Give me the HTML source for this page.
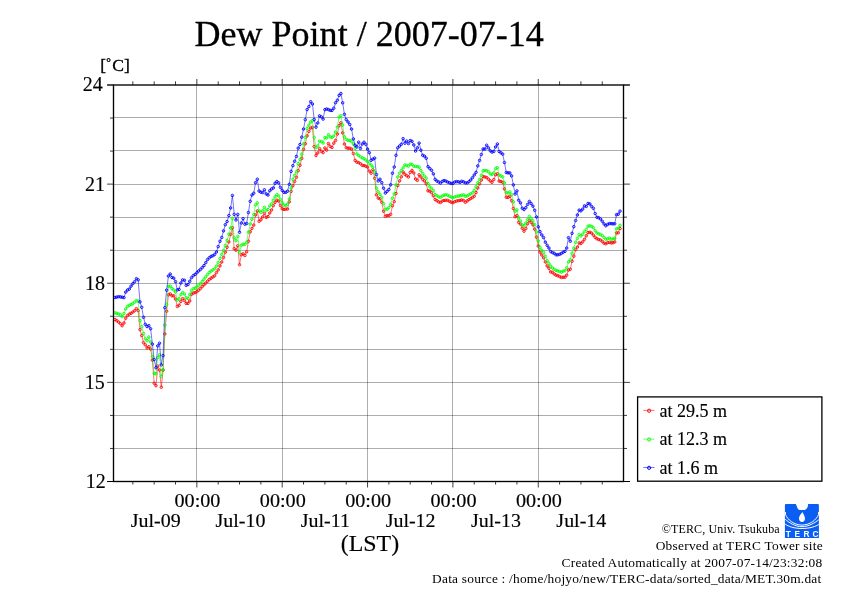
<!DOCTYPE html>
<html><head><meta charset="utf-8"><title>Dew Point / 2007-07-14</title>
<style>
html,body{margin:0;padding:0;background:#fff;}
body{width:842px;height:595px;overflow:hidden;}
svg{display:block;}
text{-webkit-font-smoothing:antialiased;}
.gs{will-change:transform;}
text{font-family:"Liberation Serif","Times New Roman",serif;fill:#000;}
</style></head><body>
<svg class="gs" width="842" height="595" viewBox="0 0 842 595">
<rect width="842" height="595" fill="#fff"/>
<path d="M113.5,117.5H623.5M113.5,150.5H623.5M113.5,184.5H623.5M113.5,217.5H623.5M113.5,250.5H623.5M113.5,283.5H623.5M113.5,316.5H623.5M113.5,349.5H623.5M113.5,382.5H623.5M113.5,415.5H623.5M113.5,448.5H623.5M196.5,85.0V481.5M282.5,85.0V481.5M367.5,85.0V481.5M452.5,85.0V481.5M538.5,85.0V481.5" stroke="#000" stroke-opacity="0.32" stroke-width="1" fill="none"/>
<path d="M107.10,85.00H113.5M623.5,85.00H629.90M110.00,118.04H113.5M623.5,118.04H627.00M110.00,151.08H113.5M623.5,151.08H627.00M107.10,184.12H113.5M623.5,184.12H629.90M110.00,217.17H113.5M623.5,217.17H627.00M110.00,250.21H113.5M623.5,250.21H627.00M107.10,283.25H113.5M623.5,283.25H629.90M110.00,316.29H113.5M623.5,316.29H627.00M110.00,349.33H113.5M623.5,349.33H627.00M107.10,382.38H113.5M623.5,382.38H629.90M110.00,415.42H113.5M623.5,415.42H627.00M110.00,448.46H113.5M623.5,448.46H627.00M107.10,481.50H113.5M623.5,481.50H629.90M602.26,85.0V81.30M602.26,481.5V484.60M580.93,85.0V81.30M580.93,481.5V484.60M559.59,85.0V81.30M559.59,481.5V484.60M538.25,85.0V79.00M538.25,481.5V487.50M516.91,85.0V81.30M516.91,481.5V484.60M495.58,85.0V81.30M495.58,481.5V484.60M474.24,85.0V81.30M474.24,481.5V484.60M452.90,85.0V79.00M452.90,481.5V487.50M431.56,85.0V81.30M431.56,481.5V484.60M410.23,85.0V81.30M410.23,481.5V484.60M388.89,85.0V81.30M388.89,481.5V484.60M367.55,85.0V79.00M367.55,481.5V487.50M346.21,85.0V81.30M346.21,481.5V484.60M324.88,85.0V81.30M324.88,481.5V484.60M303.54,85.0V81.30M303.54,481.5V484.60M282.20,85.0V79.00M282.20,481.5V487.50M260.86,85.0V81.30M260.86,481.5V484.60M239.53,85.0V81.30M239.53,481.5V484.60M218.19,85.0V81.30M218.19,481.5V484.60M196.85,85.0V79.00M196.85,481.5V487.50M175.51,85.0V81.30M175.51,481.5V484.60M154.18,85.0V81.30M154.18,481.5V484.60M132.84,85.0V81.30M132.84,481.5V484.60" stroke="#000" stroke-width="0.75" fill="none"/>
<path d="M623.5,85.0H629.9M623.5,481.5H629.9M107.1,85.0H113.5M107.1,481.5H113.5" stroke="#000" stroke-width="1.1" fill="none"/>
<polyline points="115.06,319.56 116.84,320.70 118.62,322.11 120.40,323.67 122.17,325.69 123.95,323.02 125.73,318.23 127.51,315.44 129.29,314.13 131.07,313.27 132.84,312.10 134.62,310.72 136.40,308.70 138.18,310.68 139.96,329.65 141.73,335.54 143.51,342.64 145.29,344.78 147.07,347.89 148.85,346.71 150.62,349.07 152.40,360.18 154.18,383.21 155.96,385.70 157.74,366.04 159.52,370.09 161.29,387.27 163.07,370.21 164.85,333.92 166.63,311.19 168.41,294.80 170.18,293.91 171.96,295.80 173.74,295.80 175.52,299.07 177.30,306.46 179.07,305.22 180.85,301.41 182.63,298.63 184.41,300.41 186.19,303.37 187.97,303.39 189.74,301.01 191.52,294.29 193.30,293.10 195.08,292.64 196.86,291.71 198.63,290.21 200.41,288.57 202.19,286.58 203.97,284.77 205.75,283.04 207.52,281.24 209.30,279.40 211.08,278.18 212.86,276.99 214.64,275.81 216.42,272.62 218.19,269.86 219.97,265.87 221.75,262.05 223.53,257.49 225.31,252.18 227.08,247.24 228.86,241.91 230.64,234.38 232.42,227.66 234.20,248.68 235.97,250.12 237.75,245.78 239.53,264.71 241.31,254.75 243.09,253.86 244.87,255.47 246.64,251.79 248.42,241.30 250.20,231.82 251.98,228.34 253.76,225.08 255.53,214.89 257.31,210.99 259.09,221.25 260.87,219.83 262.65,216.91 264.42,213.45 266.20,217.37 267.98,216.61 269.76,212.96 271.54,209.94 273.32,205.61 275.09,202.29 276.87,200.17 278.65,201.06 280.43,205.47 282.21,208.81 283.98,209.36 285.76,209.18 287.54,209.01 289.32,201.71 291.10,191.40 292.87,185.78 294.65,181.53 296.43,177.35 298.21,170.66 299.99,165.27 301.77,158.42 303.54,149.30 305.32,143.80 307.10,135.90 308.88,131.37 310.66,128.08 312.43,127.30 314.21,146.64 315.99,155.53 317.77,152.97 319.55,148.66 321.32,151.29 323.10,152.63 324.88,147.99 326.66,150.12 328.44,143.50 330.22,146.46 331.99,147.45 333.77,143.18 335.55,140.48 337.33,134.07 339.11,125.68 340.88,122.82 342.66,132.85 344.44,144.10 346.22,147.70 348.00,148.20 349.77,148.20 351.55,149.03 353.33,153.49 355.11,160.41 356.89,162.19 358.67,162.63 360.44,163.71 362.22,165.32 364.00,165.62 365.78,166.16 367.56,167.11 369.33,171.10 371.11,173.23 372.89,169.72 374.67,178.27 376.45,194.84 378.22,198.11 380.00,198.80 381.78,202.21 383.56,211.19 385.34,216.34 387.12,215.63 388.89,215.70 390.67,214.28 392.45,205.74 394.23,201.67 396.01,193.54 397.78,185.52 399.56,180.88 401.34,176.82 403.12,171.98 404.90,174.24 406.67,175.69 408.45,176.87 410.23,172.42 412.01,170.38 413.79,172.94 415.57,178.93 417.34,180.42 419.12,174.81 420.90,176.93 422.68,179.43 424.46,181.01 426.23,183.86 428.01,190.80 429.79,191.16 431.57,192.71 433.35,195.75 435.12,199.54 436.90,200.67 438.68,201.85 440.46,202.51 442.24,201.09 444.02,200.53 445.79,200.30 447.57,200.30 449.35,201.29 451.13,202.17 452.91,202.68 454.68,201.66 456.46,201.07 458.24,200.71 460.02,200.36 461.80,199.94 463.57,200.51 465.35,202.26 467.13,200.89 468.91,199.65 470.69,198.53 472.47,197.46 474.24,196.19 476.02,192.60 477.80,188.02 479.58,183.77 481.36,180.13 483.13,176.53 484.91,176.98 486.69,177.49 488.47,179.18 490.25,180.95 492.02,182.28 493.80,179.59 495.58,174.76 497.36,173.75 499.14,181.00 500.92,181.46 502.69,182.35 504.47,188.87 506.25,197.28 508.03,197.34 509.81,196.28 511.58,200.65 513.36,208.46 515.14,216.73 516.92,215.53 518.70,222.39 520.47,224.17 522.25,228.28 524.03,231.17 525.81,228.58 527.59,223.74 529.37,220.47 531.14,222.24 532.92,224.83 534.70,229.13 536.48,237.22 538.26,246.16 540.03,252.11 541.81,254.96 543.59,257.82 545.37,261.86 547.15,266.01 548.92,268.33 550.70,271.89 552.48,272.41 554.26,273.96 556.04,275.12 557.82,275.70 559.59,276.57 561.37,277.49 563.15,277.20 564.93,277.20 566.71,275.16 568.48,270.06 570.26,269.22 572.04,261.23 573.82,256.19 575.60,249.59 577.38,247.00 579.15,242.91 580.93,243.41 582.71,241.84 584.49,239.34 586.27,235.77 588.04,232.61 589.82,232.31 591.60,233.10 593.38,235.17 595.16,237.36 596.93,238.77 598.71,239.52 600.49,240.04 602.27,241.38 604.05,243.15 605.82,243.78 607.60,242.60 609.38,242.44 611.16,242.90 612.94,242.69 614.72,241.97 616.49,232.90 618.27,232.80 620.05,228.60" fill="none" stroke="#ff0000" stroke-width="0.55"/>
<g fill="none" stroke="#ff0000" stroke-width="0.9"><circle cx="115.06" cy="319.56" r="1.25"/><circle cx="116.84" cy="320.70" r="1.25"/><circle cx="118.62" cy="322.11" r="1.25"/><circle cx="120.40" cy="323.67" r="1.25"/><circle cx="122.17" cy="325.69" r="1.25"/><circle cx="123.95" cy="323.02" r="1.25"/><circle cx="125.73" cy="318.23" r="1.25"/><circle cx="127.51" cy="315.44" r="1.25"/><circle cx="129.29" cy="314.13" r="1.25"/><circle cx="131.07" cy="313.27" r="1.25"/><circle cx="132.84" cy="312.10" r="1.25"/><circle cx="134.62" cy="310.72" r="1.25"/><circle cx="136.40" cy="308.70" r="1.25"/><circle cx="138.18" cy="310.68" r="1.25"/><circle cx="139.96" cy="329.65" r="1.25"/><circle cx="141.73" cy="335.54" r="1.25"/><circle cx="143.51" cy="342.64" r="1.25"/><circle cx="145.29" cy="344.78" r="1.25"/><circle cx="147.07" cy="347.89" r="1.25"/><circle cx="148.85" cy="346.71" r="1.25"/><circle cx="150.62" cy="349.07" r="1.25"/><circle cx="152.40" cy="360.18" r="1.25"/><circle cx="154.18" cy="383.21" r="1.25"/><circle cx="155.96" cy="385.70" r="1.25"/><circle cx="157.74" cy="366.04" r="1.25"/><circle cx="159.52" cy="370.09" r="1.25"/><circle cx="161.29" cy="387.27" r="1.25"/><circle cx="163.07" cy="370.21" r="1.25"/><circle cx="164.85" cy="333.92" r="1.25"/><circle cx="166.63" cy="311.19" r="1.25"/><circle cx="168.41" cy="294.80" r="1.25"/><circle cx="170.18" cy="293.91" r="1.25"/><circle cx="171.96" cy="295.80" r="1.25"/><circle cx="173.74" cy="295.80" r="1.25"/><circle cx="175.52" cy="299.07" r="1.25"/><circle cx="177.30" cy="306.46" r="1.25"/><circle cx="179.07" cy="305.22" r="1.25"/><circle cx="180.85" cy="301.41" r="1.25"/><circle cx="182.63" cy="298.63" r="1.25"/><circle cx="184.41" cy="300.41" r="1.25"/><circle cx="186.19" cy="303.37" r="1.25"/><circle cx="187.97" cy="303.39" r="1.25"/><circle cx="189.74" cy="301.01" r="1.25"/><circle cx="191.52" cy="294.29" r="1.25"/><circle cx="193.30" cy="293.10" r="1.25"/><circle cx="195.08" cy="292.64" r="1.25"/><circle cx="196.86" cy="291.71" r="1.25"/><circle cx="198.63" cy="290.21" r="1.25"/><circle cx="200.41" cy="288.57" r="1.25"/><circle cx="202.19" cy="286.58" r="1.25"/><circle cx="203.97" cy="284.77" r="1.25"/><circle cx="205.75" cy="283.04" r="1.25"/><circle cx="207.52" cy="281.24" r="1.25"/><circle cx="209.30" cy="279.40" r="1.25"/><circle cx="211.08" cy="278.18" r="1.25"/><circle cx="212.86" cy="276.99" r="1.25"/><circle cx="214.64" cy="275.81" r="1.25"/><circle cx="216.42" cy="272.62" r="1.25"/><circle cx="218.19" cy="269.86" r="1.25"/><circle cx="219.97" cy="265.87" r="1.25"/><circle cx="221.75" cy="262.05" r="1.25"/><circle cx="223.53" cy="257.49" r="1.25"/><circle cx="225.31" cy="252.18" r="1.25"/><circle cx="227.08" cy="247.24" r="1.25"/><circle cx="228.86" cy="241.91" r="1.25"/><circle cx="230.64" cy="234.38" r="1.25"/><circle cx="232.42" cy="227.66" r="1.25"/><circle cx="234.20" cy="248.68" r="1.25"/><circle cx="235.97" cy="250.12" r="1.25"/><circle cx="237.75" cy="245.78" r="1.25"/><circle cx="239.53" cy="264.71" r="1.25"/><circle cx="241.31" cy="254.75" r="1.25"/><circle cx="243.09" cy="253.86" r="1.25"/><circle cx="244.87" cy="255.47" r="1.25"/><circle cx="246.64" cy="251.79" r="1.25"/><circle cx="248.42" cy="241.30" r="1.25"/><circle cx="250.20" cy="231.82" r="1.25"/><circle cx="251.98" cy="228.34" r="1.25"/><circle cx="253.76" cy="225.08" r="1.25"/><circle cx="255.53" cy="214.89" r="1.25"/><circle cx="257.31" cy="210.99" r="1.25"/><circle cx="259.09" cy="221.25" r="1.25"/><circle cx="260.87" cy="219.83" r="1.25"/><circle cx="262.65" cy="216.91" r="1.25"/><circle cx="264.42" cy="213.45" r="1.25"/><circle cx="266.20" cy="217.37" r="1.25"/><circle cx="267.98" cy="216.61" r="1.25"/><circle cx="269.76" cy="212.96" r="1.25"/><circle cx="271.54" cy="209.94" r="1.25"/><circle cx="273.32" cy="205.61" r="1.25"/><circle cx="275.09" cy="202.29" r="1.25"/><circle cx="276.87" cy="200.17" r="1.25"/><circle cx="278.65" cy="201.06" r="1.25"/><circle cx="280.43" cy="205.47" r="1.25"/><circle cx="282.21" cy="208.81" r="1.25"/><circle cx="283.98" cy="209.36" r="1.25"/><circle cx="285.76" cy="209.18" r="1.25"/><circle cx="287.54" cy="209.01" r="1.25"/><circle cx="289.32" cy="201.71" r="1.25"/><circle cx="291.10" cy="191.40" r="1.25"/><circle cx="292.87" cy="185.78" r="1.25"/><circle cx="294.65" cy="181.53" r="1.25"/><circle cx="296.43" cy="177.35" r="1.25"/><circle cx="298.21" cy="170.66" r="1.25"/><circle cx="299.99" cy="165.27" r="1.25"/><circle cx="301.77" cy="158.42" r="1.25"/><circle cx="303.54" cy="149.30" r="1.25"/><circle cx="305.32" cy="143.80" r="1.25"/><circle cx="307.10" cy="135.90" r="1.25"/><circle cx="308.88" cy="131.37" r="1.25"/><circle cx="310.66" cy="128.08" r="1.25"/><circle cx="312.43" cy="127.30" r="1.25"/><circle cx="314.21" cy="146.64" r="1.25"/><circle cx="315.99" cy="155.53" r="1.25"/><circle cx="317.77" cy="152.97" r="1.25"/><circle cx="319.55" cy="148.66" r="1.25"/><circle cx="321.32" cy="151.29" r="1.25"/><circle cx="323.10" cy="152.63" r="1.25"/><circle cx="324.88" cy="147.99" r="1.25"/><circle cx="326.66" cy="150.12" r="1.25"/><circle cx="328.44" cy="143.50" r="1.25"/><circle cx="330.22" cy="146.46" r="1.25"/><circle cx="331.99" cy="147.45" r="1.25"/><circle cx="333.77" cy="143.18" r="1.25"/><circle cx="335.55" cy="140.48" r="1.25"/><circle cx="337.33" cy="134.07" r="1.25"/><circle cx="339.11" cy="125.68" r="1.25"/><circle cx="340.88" cy="122.82" r="1.25"/><circle cx="342.66" cy="132.85" r="1.25"/><circle cx="344.44" cy="144.10" r="1.25"/><circle cx="346.22" cy="147.70" r="1.25"/><circle cx="348.00" cy="148.20" r="1.25"/><circle cx="349.77" cy="148.20" r="1.25"/><circle cx="351.55" cy="149.03" r="1.25"/><circle cx="353.33" cy="153.49" r="1.25"/><circle cx="355.11" cy="160.41" r="1.25"/><circle cx="356.89" cy="162.19" r="1.25"/><circle cx="358.67" cy="162.63" r="1.25"/><circle cx="360.44" cy="163.71" r="1.25"/><circle cx="362.22" cy="165.32" r="1.25"/><circle cx="364.00" cy="165.62" r="1.25"/><circle cx="365.78" cy="166.16" r="1.25"/><circle cx="367.56" cy="167.11" r="1.25"/><circle cx="369.33" cy="171.10" r="1.25"/><circle cx="371.11" cy="173.23" r="1.25"/><circle cx="372.89" cy="169.72" r="1.25"/><circle cx="374.67" cy="178.27" r="1.25"/><circle cx="376.45" cy="194.84" r="1.25"/><circle cx="378.22" cy="198.11" r="1.25"/><circle cx="380.00" cy="198.80" r="1.25"/><circle cx="381.78" cy="202.21" r="1.25"/><circle cx="383.56" cy="211.19" r="1.25"/><circle cx="385.34" cy="216.34" r="1.25"/><circle cx="387.12" cy="215.63" r="1.25"/><circle cx="388.89" cy="215.70" r="1.25"/><circle cx="390.67" cy="214.28" r="1.25"/><circle cx="392.45" cy="205.74" r="1.25"/><circle cx="394.23" cy="201.67" r="1.25"/><circle cx="396.01" cy="193.54" r="1.25"/><circle cx="397.78" cy="185.52" r="1.25"/><circle cx="399.56" cy="180.88" r="1.25"/><circle cx="401.34" cy="176.82" r="1.25"/><circle cx="403.12" cy="171.98" r="1.25"/><circle cx="404.90" cy="174.24" r="1.25"/><circle cx="406.67" cy="175.69" r="1.25"/><circle cx="408.45" cy="176.87" r="1.25"/><circle cx="410.23" cy="172.42" r="1.25"/><circle cx="412.01" cy="170.38" r="1.25"/><circle cx="413.79" cy="172.94" r="1.25"/><circle cx="415.57" cy="178.93" r="1.25"/><circle cx="417.34" cy="180.42" r="1.25"/><circle cx="419.12" cy="174.81" r="1.25"/><circle cx="420.90" cy="176.93" r="1.25"/><circle cx="422.68" cy="179.43" r="1.25"/><circle cx="424.46" cy="181.01" r="1.25"/><circle cx="426.23" cy="183.86" r="1.25"/><circle cx="428.01" cy="190.80" r="1.25"/><circle cx="429.79" cy="191.16" r="1.25"/><circle cx="431.57" cy="192.71" r="1.25"/><circle cx="433.35" cy="195.75" r="1.25"/><circle cx="435.12" cy="199.54" r="1.25"/><circle cx="436.90" cy="200.67" r="1.25"/><circle cx="438.68" cy="201.85" r="1.25"/><circle cx="440.46" cy="202.51" r="1.25"/><circle cx="442.24" cy="201.09" r="1.25"/><circle cx="444.02" cy="200.53" r="1.25"/><circle cx="445.79" cy="200.30" r="1.25"/><circle cx="447.57" cy="200.30" r="1.25"/><circle cx="449.35" cy="201.29" r="1.25"/><circle cx="451.13" cy="202.17" r="1.25"/><circle cx="452.91" cy="202.68" r="1.25"/><circle cx="454.68" cy="201.66" r="1.25"/><circle cx="456.46" cy="201.07" r="1.25"/><circle cx="458.24" cy="200.71" r="1.25"/><circle cx="460.02" cy="200.36" r="1.25"/><circle cx="461.80" cy="199.94" r="1.25"/><circle cx="463.57" cy="200.51" r="1.25"/><circle cx="465.35" cy="202.26" r="1.25"/><circle cx="467.13" cy="200.89" r="1.25"/><circle cx="468.91" cy="199.65" r="1.25"/><circle cx="470.69" cy="198.53" r="1.25"/><circle cx="472.47" cy="197.46" r="1.25"/><circle cx="474.24" cy="196.19" r="1.25"/><circle cx="476.02" cy="192.60" r="1.25"/><circle cx="477.80" cy="188.02" r="1.25"/><circle cx="479.58" cy="183.77" r="1.25"/><circle cx="481.36" cy="180.13" r="1.25"/><circle cx="483.13" cy="176.53" r="1.25"/><circle cx="484.91" cy="176.98" r="1.25"/><circle cx="486.69" cy="177.49" r="1.25"/><circle cx="488.47" cy="179.18" r="1.25"/><circle cx="490.25" cy="180.95" r="1.25"/><circle cx="492.02" cy="182.28" r="1.25"/><circle cx="493.80" cy="179.59" r="1.25"/><circle cx="495.58" cy="174.76" r="1.25"/><circle cx="497.36" cy="173.75" r="1.25"/><circle cx="499.14" cy="181.00" r="1.25"/><circle cx="500.92" cy="181.46" r="1.25"/><circle cx="502.69" cy="182.35" r="1.25"/><circle cx="504.47" cy="188.87" r="1.25"/><circle cx="506.25" cy="197.28" r="1.25"/><circle cx="508.03" cy="197.34" r="1.25"/><circle cx="509.81" cy="196.28" r="1.25"/><circle cx="511.58" cy="200.65" r="1.25"/><circle cx="513.36" cy="208.46" r="1.25"/><circle cx="515.14" cy="216.73" r="1.25"/><circle cx="516.92" cy="215.53" r="1.25"/><circle cx="518.70" cy="222.39" r="1.25"/><circle cx="520.47" cy="224.17" r="1.25"/><circle cx="522.25" cy="228.28" r="1.25"/><circle cx="524.03" cy="231.17" r="1.25"/><circle cx="525.81" cy="228.58" r="1.25"/><circle cx="527.59" cy="223.74" r="1.25"/><circle cx="529.37" cy="220.47" r="1.25"/><circle cx="531.14" cy="222.24" r="1.25"/><circle cx="532.92" cy="224.83" r="1.25"/><circle cx="534.70" cy="229.13" r="1.25"/><circle cx="536.48" cy="237.22" r="1.25"/><circle cx="538.26" cy="246.16" r="1.25"/><circle cx="540.03" cy="252.11" r="1.25"/><circle cx="541.81" cy="254.96" r="1.25"/><circle cx="543.59" cy="257.82" r="1.25"/><circle cx="545.37" cy="261.86" r="1.25"/><circle cx="547.15" cy="266.01" r="1.25"/><circle cx="548.92" cy="268.33" r="1.25"/><circle cx="550.70" cy="271.89" r="1.25"/><circle cx="552.48" cy="272.41" r="1.25"/><circle cx="554.26" cy="273.96" r="1.25"/><circle cx="556.04" cy="275.12" r="1.25"/><circle cx="557.82" cy="275.70" r="1.25"/><circle cx="559.59" cy="276.57" r="1.25"/><circle cx="561.37" cy="277.49" r="1.25"/><circle cx="563.15" cy="277.20" r="1.25"/><circle cx="564.93" cy="277.20" r="1.25"/><circle cx="566.71" cy="275.16" r="1.25"/><circle cx="568.48" cy="270.06" r="1.25"/><circle cx="570.26" cy="269.22" r="1.25"/><circle cx="572.04" cy="261.23" r="1.25"/><circle cx="573.82" cy="256.19" r="1.25"/><circle cx="575.60" cy="249.59" r="1.25"/><circle cx="577.38" cy="247.00" r="1.25"/><circle cx="579.15" cy="242.91" r="1.25"/><circle cx="580.93" cy="243.41" r="1.25"/><circle cx="582.71" cy="241.84" r="1.25"/><circle cx="584.49" cy="239.34" r="1.25"/><circle cx="586.27" cy="235.77" r="1.25"/><circle cx="588.04" cy="232.61" r="1.25"/><circle cx="589.82" cy="232.31" r="1.25"/><circle cx="591.60" cy="233.10" r="1.25"/><circle cx="593.38" cy="235.17" r="1.25"/><circle cx="595.16" cy="237.36" r="1.25"/><circle cx="596.93" cy="238.77" r="1.25"/><circle cx="598.71" cy="239.52" r="1.25"/><circle cx="600.49" cy="240.04" r="1.25"/><circle cx="602.27" cy="241.38" r="1.25"/><circle cx="604.05" cy="243.15" r="1.25"/><circle cx="605.82" cy="243.78" r="1.25"/><circle cx="607.60" cy="242.60" r="1.25"/><circle cx="609.38" cy="242.44" r="1.25"/><circle cx="611.16" cy="242.90" r="1.25"/><circle cx="612.94" cy="242.69" r="1.25"/><circle cx="614.72" cy="241.97" r="1.25"/><circle cx="616.49" cy="232.90" r="1.25"/><circle cx="618.27" cy="232.80" r="1.25"/><circle cx="620.05" cy="228.60" r="1.25"/></g>
<polyline points="115.06,312.86 116.84,313.37 118.62,313.94 120.40,314.62 122.17,316.67 123.95,313.59 125.73,309.01 127.51,306.45 129.29,305.22 131.07,304.64 132.84,303.61 134.62,302.18 136.40,300.65 138.18,301.09 139.96,320.58 141.73,326.70 143.51,333.40 145.29,338.89 147.07,340.67 148.85,337.03 150.62,341.92 152.40,356.59 154.18,373.52 155.96,373.78 157.74,357.49 159.52,354.73 161.29,376.45 163.07,369.78 164.85,325.14 166.63,304.53 168.41,286.39 170.18,286.13 171.96,288.59 173.74,289.85 175.52,292.02 177.30,300.25 179.07,298.79 180.85,294.62 182.63,292.51 184.41,294.02 186.19,297.77 187.97,298.36 189.74,294.44 191.52,290.48 193.30,288.70 195.08,288.30 196.86,287.21 198.63,285.37 200.41,283.59 202.19,281.53 203.97,279.19 205.75,276.84 207.52,274.47 209.30,272.55 211.08,271.07 212.86,270.02 214.64,268.83 216.42,266.08 218.19,262.70 219.97,258.39 221.75,254.26 223.53,250.45 225.31,245.52 227.08,240.25 228.86,234.29 230.64,228.03 232.42,218.37 234.20,237.86 235.97,240.82 237.75,236.34 239.53,252.46 241.31,245.28 243.09,244.16 244.87,244.50 246.64,242.37 248.42,232.09 250.20,223.96 251.98,219.22 253.76,214.52 255.53,204.84 257.31,202.78 259.09,210.97 260.87,212.40 262.65,210.88 264.42,207.34 266.20,210.55 267.98,209.51 269.76,205.99 271.54,203.86 273.32,200.30 275.09,196.87 276.87,194.68 278.65,195.95 280.43,199.39 282.21,202.71 283.98,205.08 285.76,205.43 287.54,204.06 289.32,198.93 291.10,187.99 292.87,179.31 294.65,175.31 296.43,171.74 298.21,163.58 299.99,159.34 301.77,154.13 303.54,143.79 305.32,137.28 307.10,128.30 308.88,125.19 310.66,122.08 312.43,120.60 314.21,137.47 315.99,147.61 317.77,145.82 319.55,141.14 321.32,141.43 323.10,143.00 324.88,137.55 326.66,138.09 328.44,134.63 330.22,136.89 331.99,137.34 333.77,136.06 335.55,132.08 337.33,127.01 339.11,117.05 340.88,115.71 342.66,125.04 344.44,136.84 346.22,139.34 348.00,140.34 349.77,140.54 351.55,141.47 353.33,143.99 355.11,148.35 356.89,154.03 358.67,155.52 360.44,156.73 362.22,157.86 364.00,158.75 365.78,159.87 367.56,161.35 369.33,163.34 371.11,165.11 372.89,167.09 374.67,171.92 376.45,188.27 378.22,191.87 380.00,194.36 381.78,197.28 383.56,203.73 385.34,209.37 387.12,209.02 388.89,207.66 390.67,204.53 392.45,198.23 394.23,194.06 396.01,185.07 397.78,176.96 399.56,173.25 401.34,170.47 403.12,167.89 404.90,165.03 406.67,165.33 408.45,166.18 410.23,164.17 412.01,164.51 413.79,166.32 415.57,166.42 417.34,166.60 419.12,167.15 420.90,170.64 422.68,173.62 424.46,176.19 426.23,178.13 428.01,183.65 429.79,186.75 431.57,188.59 433.35,190.58 435.12,194.71 436.90,195.78 438.68,196.85 440.46,197.41 442.24,195.99 444.02,195.16 445.79,194.82 447.57,195.17 449.35,196.19 451.13,197.07 452.91,197.62 454.68,196.94 456.46,196.47 458.24,196.11 460.02,195.76 461.80,195.20 463.57,194.92 465.35,196.34 467.13,195.93 468.91,194.89 470.69,193.83 472.47,192.76 474.24,190.51 476.02,186.75 477.80,182.74 479.58,179.44 481.36,175.25 483.13,170.79 484.91,170.44 486.69,170.72 488.47,171.65 490.25,173.91 492.02,174.36 493.80,172.80 495.58,168.62 497.36,167.66 499.14,175.11 500.92,175.96 502.69,176.85 504.47,182.93 506.25,192.63 508.03,192.99 509.81,191.89 511.58,194.57 513.36,201.74 515.14,211.27 516.92,209.85 518.70,217.78 520.47,220.93 522.25,224.93 524.03,225.82 525.81,223.08 527.59,219.53 529.37,216.50 531.14,218.61 532.92,220.83 534.70,224.59 536.48,231.89 538.26,240.88 540.03,247.36 541.81,250.32 543.59,252.29 545.37,256.42 547.15,260.79 548.92,263.23 550.70,266.02 552.48,268.06 554.26,269.37 556.04,270.36 557.82,270.91 559.59,271.53 561.37,272.16 563.15,271.05 564.93,270.80 566.71,267.79 568.48,261.98 570.26,259.79 572.04,253.27 573.82,248.22 575.60,242.37 577.38,238.40 579.15,234.61 580.93,235.95 582.71,234.28 584.49,231.52 586.27,229.47 588.04,226.20 589.82,225.85 591.60,226.52 593.38,227.59 595.16,230.71 596.93,233.05 598.71,233.78 600.49,234.51 602.27,235.55 604.05,237.46 605.82,239.17 607.60,238.90 609.38,237.98 611.16,239.31 612.94,238.89 614.72,238.45 616.49,228.78 618.27,228.41 620.05,225.30" fill="none" stroke="#00ff00" stroke-width="0.55"/>
<g fill="none" stroke="#00ff00" stroke-width="0.9"><circle cx="115.06" cy="312.86" r="1.25"/><circle cx="116.84" cy="313.37" r="1.25"/><circle cx="118.62" cy="313.94" r="1.25"/><circle cx="120.40" cy="314.62" r="1.25"/><circle cx="122.17" cy="316.67" r="1.25"/><circle cx="123.95" cy="313.59" r="1.25"/><circle cx="125.73" cy="309.01" r="1.25"/><circle cx="127.51" cy="306.45" r="1.25"/><circle cx="129.29" cy="305.22" r="1.25"/><circle cx="131.07" cy="304.64" r="1.25"/><circle cx="132.84" cy="303.61" r="1.25"/><circle cx="134.62" cy="302.18" r="1.25"/><circle cx="136.40" cy="300.65" r="1.25"/><circle cx="138.18" cy="301.09" r="1.25"/><circle cx="139.96" cy="320.58" r="1.25"/><circle cx="141.73" cy="326.70" r="1.25"/><circle cx="143.51" cy="333.40" r="1.25"/><circle cx="145.29" cy="338.89" r="1.25"/><circle cx="147.07" cy="340.67" r="1.25"/><circle cx="148.85" cy="337.03" r="1.25"/><circle cx="150.62" cy="341.92" r="1.25"/><circle cx="152.40" cy="356.59" r="1.25"/><circle cx="154.18" cy="373.52" r="1.25"/><circle cx="155.96" cy="373.78" r="1.25"/><circle cx="157.74" cy="357.49" r="1.25"/><circle cx="159.52" cy="354.73" r="1.25"/><circle cx="161.29" cy="376.45" r="1.25"/><circle cx="163.07" cy="369.78" r="1.25"/><circle cx="164.85" cy="325.14" r="1.25"/><circle cx="166.63" cy="304.53" r="1.25"/><circle cx="168.41" cy="286.39" r="1.25"/><circle cx="170.18" cy="286.13" r="1.25"/><circle cx="171.96" cy="288.59" r="1.25"/><circle cx="173.74" cy="289.85" r="1.25"/><circle cx="175.52" cy="292.02" r="1.25"/><circle cx="177.30" cy="300.25" r="1.25"/><circle cx="179.07" cy="298.79" r="1.25"/><circle cx="180.85" cy="294.62" r="1.25"/><circle cx="182.63" cy="292.51" r="1.25"/><circle cx="184.41" cy="294.02" r="1.25"/><circle cx="186.19" cy="297.77" r="1.25"/><circle cx="187.97" cy="298.36" r="1.25"/><circle cx="189.74" cy="294.44" r="1.25"/><circle cx="191.52" cy="290.48" r="1.25"/><circle cx="193.30" cy="288.70" r="1.25"/><circle cx="195.08" cy="288.30" r="1.25"/><circle cx="196.86" cy="287.21" r="1.25"/><circle cx="198.63" cy="285.37" r="1.25"/><circle cx="200.41" cy="283.59" r="1.25"/><circle cx="202.19" cy="281.53" r="1.25"/><circle cx="203.97" cy="279.19" r="1.25"/><circle cx="205.75" cy="276.84" r="1.25"/><circle cx="207.52" cy="274.47" r="1.25"/><circle cx="209.30" cy="272.55" r="1.25"/><circle cx="211.08" cy="271.07" r="1.25"/><circle cx="212.86" cy="270.02" r="1.25"/><circle cx="214.64" cy="268.83" r="1.25"/><circle cx="216.42" cy="266.08" r="1.25"/><circle cx="218.19" cy="262.70" r="1.25"/><circle cx="219.97" cy="258.39" r="1.25"/><circle cx="221.75" cy="254.26" r="1.25"/><circle cx="223.53" cy="250.45" r="1.25"/><circle cx="225.31" cy="245.52" r="1.25"/><circle cx="227.08" cy="240.25" r="1.25"/><circle cx="228.86" cy="234.29" r="1.25"/><circle cx="230.64" cy="228.03" r="1.25"/><circle cx="232.42" cy="218.37" r="1.25"/><circle cx="234.20" cy="237.86" r="1.25"/><circle cx="235.97" cy="240.82" r="1.25"/><circle cx="237.75" cy="236.34" r="1.25"/><circle cx="239.53" cy="252.46" r="1.25"/><circle cx="241.31" cy="245.28" r="1.25"/><circle cx="243.09" cy="244.16" r="1.25"/><circle cx="244.87" cy="244.50" r="1.25"/><circle cx="246.64" cy="242.37" r="1.25"/><circle cx="248.42" cy="232.09" r="1.25"/><circle cx="250.20" cy="223.96" r="1.25"/><circle cx="251.98" cy="219.22" r="1.25"/><circle cx="253.76" cy="214.52" r="1.25"/><circle cx="255.53" cy="204.84" r="1.25"/><circle cx="257.31" cy="202.78" r="1.25"/><circle cx="259.09" cy="210.97" r="1.25"/><circle cx="260.87" cy="212.40" r="1.25"/><circle cx="262.65" cy="210.88" r="1.25"/><circle cx="264.42" cy="207.34" r="1.25"/><circle cx="266.20" cy="210.55" r="1.25"/><circle cx="267.98" cy="209.51" r="1.25"/><circle cx="269.76" cy="205.99" r="1.25"/><circle cx="271.54" cy="203.86" r="1.25"/><circle cx="273.32" cy="200.30" r="1.25"/><circle cx="275.09" cy="196.87" r="1.25"/><circle cx="276.87" cy="194.68" r="1.25"/><circle cx="278.65" cy="195.95" r="1.25"/><circle cx="280.43" cy="199.39" r="1.25"/><circle cx="282.21" cy="202.71" r="1.25"/><circle cx="283.98" cy="205.08" r="1.25"/><circle cx="285.76" cy="205.43" r="1.25"/><circle cx="287.54" cy="204.06" r="1.25"/><circle cx="289.32" cy="198.93" r="1.25"/><circle cx="291.10" cy="187.99" r="1.25"/><circle cx="292.87" cy="179.31" r="1.25"/><circle cx="294.65" cy="175.31" r="1.25"/><circle cx="296.43" cy="171.74" r="1.25"/><circle cx="298.21" cy="163.58" r="1.25"/><circle cx="299.99" cy="159.34" r="1.25"/><circle cx="301.77" cy="154.13" r="1.25"/><circle cx="303.54" cy="143.79" r="1.25"/><circle cx="305.32" cy="137.28" r="1.25"/><circle cx="307.10" cy="128.30" r="1.25"/><circle cx="308.88" cy="125.19" r="1.25"/><circle cx="310.66" cy="122.08" r="1.25"/><circle cx="312.43" cy="120.60" r="1.25"/><circle cx="314.21" cy="137.47" r="1.25"/><circle cx="315.99" cy="147.61" r="1.25"/><circle cx="317.77" cy="145.82" r="1.25"/><circle cx="319.55" cy="141.14" r="1.25"/><circle cx="321.32" cy="141.43" r="1.25"/><circle cx="323.10" cy="143.00" r="1.25"/><circle cx="324.88" cy="137.55" r="1.25"/><circle cx="326.66" cy="138.09" r="1.25"/><circle cx="328.44" cy="134.63" r="1.25"/><circle cx="330.22" cy="136.89" r="1.25"/><circle cx="331.99" cy="137.34" r="1.25"/><circle cx="333.77" cy="136.06" r="1.25"/><circle cx="335.55" cy="132.08" r="1.25"/><circle cx="337.33" cy="127.01" r="1.25"/><circle cx="339.11" cy="117.05" r="1.25"/><circle cx="340.88" cy="115.71" r="1.25"/><circle cx="342.66" cy="125.04" r="1.25"/><circle cx="344.44" cy="136.84" r="1.25"/><circle cx="346.22" cy="139.34" r="1.25"/><circle cx="348.00" cy="140.34" r="1.25"/><circle cx="349.77" cy="140.54" r="1.25"/><circle cx="351.55" cy="141.47" r="1.25"/><circle cx="353.33" cy="143.99" r="1.25"/><circle cx="355.11" cy="148.35" r="1.25"/><circle cx="356.89" cy="154.03" r="1.25"/><circle cx="358.67" cy="155.52" r="1.25"/><circle cx="360.44" cy="156.73" r="1.25"/><circle cx="362.22" cy="157.86" r="1.25"/><circle cx="364.00" cy="158.75" r="1.25"/><circle cx="365.78" cy="159.87" r="1.25"/><circle cx="367.56" cy="161.35" r="1.25"/><circle cx="369.33" cy="163.34" r="1.25"/><circle cx="371.11" cy="165.11" r="1.25"/><circle cx="372.89" cy="167.09" r="1.25"/><circle cx="374.67" cy="171.92" r="1.25"/><circle cx="376.45" cy="188.27" r="1.25"/><circle cx="378.22" cy="191.87" r="1.25"/><circle cx="380.00" cy="194.36" r="1.25"/><circle cx="381.78" cy="197.28" r="1.25"/><circle cx="383.56" cy="203.73" r="1.25"/><circle cx="385.34" cy="209.37" r="1.25"/><circle cx="387.12" cy="209.02" r="1.25"/><circle cx="388.89" cy="207.66" r="1.25"/><circle cx="390.67" cy="204.53" r="1.25"/><circle cx="392.45" cy="198.23" r="1.25"/><circle cx="394.23" cy="194.06" r="1.25"/><circle cx="396.01" cy="185.07" r="1.25"/><circle cx="397.78" cy="176.96" r="1.25"/><circle cx="399.56" cy="173.25" r="1.25"/><circle cx="401.34" cy="170.47" r="1.25"/><circle cx="403.12" cy="167.89" r="1.25"/><circle cx="404.90" cy="165.03" r="1.25"/><circle cx="406.67" cy="165.33" r="1.25"/><circle cx="408.45" cy="166.18" r="1.25"/><circle cx="410.23" cy="164.17" r="1.25"/><circle cx="412.01" cy="164.51" r="1.25"/><circle cx="413.79" cy="166.32" r="1.25"/><circle cx="415.57" cy="166.42" r="1.25"/><circle cx="417.34" cy="166.60" r="1.25"/><circle cx="419.12" cy="167.15" r="1.25"/><circle cx="420.90" cy="170.64" r="1.25"/><circle cx="422.68" cy="173.62" r="1.25"/><circle cx="424.46" cy="176.19" r="1.25"/><circle cx="426.23" cy="178.13" r="1.25"/><circle cx="428.01" cy="183.65" r="1.25"/><circle cx="429.79" cy="186.75" r="1.25"/><circle cx="431.57" cy="188.59" r="1.25"/><circle cx="433.35" cy="190.58" r="1.25"/><circle cx="435.12" cy="194.71" r="1.25"/><circle cx="436.90" cy="195.78" r="1.25"/><circle cx="438.68" cy="196.85" r="1.25"/><circle cx="440.46" cy="197.41" r="1.25"/><circle cx="442.24" cy="195.99" r="1.25"/><circle cx="444.02" cy="195.16" r="1.25"/><circle cx="445.79" cy="194.82" r="1.25"/><circle cx="447.57" cy="195.17" r="1.25"/><circle cx="449.35" cy="196.19" r="1.25"/><circle cx="451.13" cy="197.07" r="1.25"/><circle cx="452.91" cy="197.62" r="1.25"/><circle cx="454.68" cy="196.94" r="1.25"/><circle cx="456.46" cy="196.47" r="1.25"/><circle cx="458.24" cy="196.11" r="1.25"/><circle cx="460.02" cy="195.76" r="1.25"/><circle cx="461.80" cy="195.20" r="1.25"/><circle cx="463.57" cy="194.92" r="1.25"/><circle cx="465.35" cy="196.34" r="1.25"/><circle cx="467.13" cy="195.93" r="1.25"/><circle cx="468.91" cy="194.89" r="1.25"/><circle cx="470.69" cy="193.83" r="1.25"/><circle cx="472.47" cy="192.76" r="1.25"/><circle cx="474.24" cy="190.51" r="1.25"/><circle cx="476.02" cy="186.75" r="1.25"/><circle cx="477.80" cy="182.74" r="1.25"/><circle cx="479.58" cy="179.44" r="1.25"/><circle cx="481.36" cy="175.25" r="1.25"/><circle cx="483.13" cy="170.79" r="1.25"/><circle cx="484.91" cy="170.44" r="1.25"/><circle cx="486.69" cy="170.72" r="1.25"/><circle cx="488.47" cy="171.65" r="1.25"/><circle cx="490.25" cy="173.91" r="1.25"/><circle cx="492.02" cy="174.36" r="1.25"/><circle cx="493.80" cy="172.80" r="1.25"/><circle cx="495.58" cy="168.62" r="1.25"/><circle cx="497.36" cy="167.66" r="1.25"/><circle cx="499.14" cy="175.11" r="1.25"/><circle cx="500.92" cy="175.96" r="1.25"/><circle cx="502.69" cy="176.85" r="1.25"/><circle cx="504.47" cy="182.93" r="1.25"/><circle cx="506.25" cy="192.63" r="1.25"/><circle cx="508.03" cy="192.99" r="1.25"/><circle cx="509.81" cy="191.89" r="1.25"/><circle cx="511.58" cy="194.57" r="1.25"/><circle cx="513.36" cy="201.74" r="1.25"/><circle cx="515.14" cy="211.27" r="1.25"/><circle cx="516.92" cy="209.85" r="1.25"/><circle cx="518.70" cy="217.78" r="1.25"/><circle cx="520.47" cy="220.93" r="1.25"/><circle cx="522.25" cy="224.93" r="1.25"/><circle cx="524.03" cy="225.82" r="1.25"/><circle cx="525.81" cy="223.08" r="1.25"/><circle cx="527.59" cy="219.53" r="1.25"/><circle cx="529.37" cy="216.50" r="1.25"/><circle cx="531.14" cy="218.61" r="1.25"/><circle cx="532.92" cy="220.83" r="1.25"/><circle cx="534.70" cy="224.59" r="1.25"/><circle cx="536.48" cy="231.89" r="1.25"/><circle cx="538.26" cy="240.88" r="1.25"/><circle cx="540.03" cy="247.36" r="1.25"/><circle cx="541.81" cy="250.32" r="1.25"/><circle cx="543.59" cy="252.29" r="1.25"/><circle cx="545.37" cy="256.42" r="1.25"/><circle cx="547.15" cy="260.79" r="1.25"/><circle cx="548.92" cy="263.23" r="1.25"/><circle cx="550.70" cy="266.02" r="1.25"/><circle cx="552.48" cy="268.06" r="1.25"/><circle cx="554.26" cy="269.37" r="1.25"/><circle cx="556.04" cy="270.36" r="1.25"/><circle cx="557.82" cy="270.91" r="1.25"/><circle cx="559.59" cy="271.53" r="1.25"/><circle cx="561.37" cy="272.16" r="1.25"/><circle cx="563.15" cy="271.05" r="1.25"/><circle cx="564.93" cy="270.80" r="1.25"/><circle cx="566.71" cy="267.79" r="1.25"/><circle cx="568.48" cy="261.98" r="1.25"/><circle cx="570.26" cy="259.79" r="1.25"/><circle cx="572.04" cy="253.27" r="1.25"/><circle cx="573.82" cy="248.22" r="1.25"/><circle cx="575.60" cy="242.37" r="1.25"/><circle cx="577.38" cy="238.40" r="1.25"/><circle cx="579.15" cy="234.61" r="1.25"/><circle cx="580.93" cy="235.95" r="1.25"/><circle cx="582.71" cy="234.28" r="1.25"/><circle cx="584.49" cy="231.52" r="1.25"/><circle cx="586.27" cy="229.47" r="1.25"/><circle cx="588.04" cy="226.20" r="1.25"/><circle cx="589.82" cy="225.85" r="1.25"/><circle cx="591.60" cy="226.52" r="1.25"/><circle cx="593.38" cy="227.59" r="1.25"/><circle cx="595.16" cy="230.71" r="1.25"/><circle cx="596.93" cy="233.05" r="1.25"/><circle cx="598.71" cy="233.78" r="1.25"/><circle cx="600.49" cy="234.51" r="1.25"/><circle cx="602.27" cy="235.55" r="1.25"/><circle cx="604.05" cy="237.46" r="1.25"/><circle cx="605.82" cy="239.17" r="1.25"/><circle cx="607.60" cy="238.90" r="1.25"/><circle cx="609.38" cy="237.98" r="1.25"/><circle cx="611.16" cy="239.31" r="1.25"/><circle cx="612.94" cy="238.89" r="1.25"/><circle cx="614.72" cy="238.45" r="1.25"/><circle cx="616.49" cy="228.78" r="1.25"/><circle cx="618.27" cy="228.41" r="1.25"/><circle cx="620.05" cy="225.30" r="1.25"/></g>
<polyline points="115.06,297.48 116.84,297.08 118.62,296.68 120.40,296.87 122.17,297.22 123.95,297.57 125.73,292.07 127.51,290.00 129.29,289.04 131.07,286.12 132.84,283.61 134.62,281.74 136.40,278.64 138.18,279.82 139.96,301.88 141.73,307.28 143.51,317.31 145.29,324.27 147.07,326.51 148.85,325.64 150.62,328.76 152.40,344.13 154.18,359.57 155.96,367.73 157.74,345.89 159.52,343.23 161.29,364.82 163.07,355.65 164.85,307.66 166.63,290.19 168.41,276.05 170.18,274.00 171.96,277.44 173.74,278.16 175.52,281.61 177.30,289.85 179.07,289.41 180.85,282.97 182.63,279.92 184.41,280.23 186.19,285.36 187.97,284.52 189.74,281.24 191.52,277.66 193.30,275.59 195.08,274.44 196.86,272.74 198.63,271.01 200.41,269.47 202.19,267.66 203.97,265.59 205.75,262.63 207.52,259.57 209.30,257.73 211.08,256.37 212.86,255.78 214.64,254.51 216.42,252.03 218.19,246.62 219.97,241.28 221.75,237.45 223.53,230.89 225.31,224.73 227.08,221.53 228.86,215.51 230.64,207.96 232.42,195.46 234.20,214.37 235.97,219.99 237.75,214.40 239.53,232.31 241.31,223.00 243.09,218.64 244.87,224.19 246.64,223.55 248.42,212.54 250.20,201.28 251.98,195.02 253.76,193.24 255.53,182.65 257.31,179.27 259.09,191.02 260.87,192.18 262.65,192.64 264.42,189.77 266.20,193.93 267.98,195.01 269.76,190.77 271.54,188.98 273.32,187.91 275.09,183.21 276.87,181.52 278.65,182.85 280.43,187.37 282.21,190.41 283.98,192.28 285.76,192.40 287.54,191.19 289.32,184.30 291.10,171.39 292.87,165.66 294.65,161.22 296.43,156.43 298.21,148.08 299.99,144.53 301.77,137.15 303.54,129.06 305.32,119.66 307.10,109.55 308.88,106.58 310.66,101.68 312.43,103.96 314.21,119.54 315.99,127.15 317.77,122.95 319.55,115.87 321.32,116.86 323.10,119.08 324.88,109.63 326.66,108.95 328.44,109.55 330.22,110.38 331.99,110.46 333.77,108.24 335.55,102.74 337.33,100.20 339.11,95.32 340.88,93.51 342.66,102.84 344.44,114.34 346.22,119.61 348.00,121.94 349.77,124.48 351.55,129.07 353.33,138.92 355.11,145.20 356.89,146.92 358.67,142.19 360.44,148.50 362.22,144.07 364.00,142.21 365.78,144.28 367.56,149.07 369.33,152.67 371.11,160.29 372.89,159.13 374.67,158.11 376.45,174.54 378.22,180.98 380.00,179.20 381.78,182.55 383.56,188.22 385.34,193.06 387.12,191.28 388.89,189.51 390.67,184.78 392.45,173.24 394.23,167.01 396.01,155.26 397.78,147.82 399.56,146.04 401.34,144.26 403.12,138.66 404.90,143.19 406.67,141.03 408.45,143.61 410.23,140.56 412.01,141.31 413.79,144.93 415.57,150.99 417.34,147.87 419.12,143.09 420.90,150.20 422.68,155.24 424.46,156.13 426.23,158.24 428.01,166.71 429.79,168.49 431.57,170.27 433.35,173.85 435.12,179.33 436.90,181.00 438.68,181.89 440.46,183.14 442.24,181.39 444.02,180.67 445.79,181.03 447.57,182.01 449.35,182.72 451.13,183.43 452.91,183.42 454.68,181.99 456.46,181.58 458.24,181.74 460.02,182.33 461.80,181.26 463.57,181.84 465.35,182.90 467.13,182.90 468.91,181.74 470.69,180.04 472.47,177.68 474.24,174.95 476.02,172.32 477.80,165.89 479.58,160.37 481.36,154.50 483.13,148.97 484.91,148.98 486.69,145.23 488.47,147.86 490.25,150.74 492.02,152.07 493.80,151.40 495.58,146.96 497.36,143.96 499.14,151.51 500.92,152.79 502.69,154.12 504.47,162.57 506.25,172.49 508.03,172.85 509.81,172.90 511.58,175.90 513.36,184.89 515.14,194.03 516.92,190.92 518.70,200.18 520.47,202.86 522.25,208.24 524.03,209.57 525.81,207.69 527.59,204.43 529.37,201.40 531.14,203.51 532.92,206.13 534.70,210.28 536.48,216.97 538.26,226.83 540.03,231.68 541.81,234.92 543.59,237.57 545.37,242.18 547.15,245.37 548.92,248.04 550.70,251.51 552.48,252.57 554.26,253.36 556.04,254.80 557.82,254.77 559.59,254.33 561.37,253.46 563.15,252.21 564.93,251.42 566.71,248.02 568.48,237.58 570.26,241.22 572.04,233.25 573.82,226.68 575.60,220.52 577.38,214.92 579.15,210.12 580.93,210.87 582.71,209.09 584.49,205.83 586.27,206.43 588.04,203.44 589.82,203.91 591.60,206.43 593.38,208.36 595.16,213.55 596.93,217.26 598.71,217.71 600.49,218.98 602.27,221.26 604.05,223.92 605.82,225.78 607.60,224.45 609.38,223.51 611.16,223.64 612.94,223.80 614.72,223.80 616.49,214.68 618.27,214.23 620.05,211.15" fill="none" stroke="#0000ff" stroke-width="0.55"/>
<g fill="none" stroke="#0000ff" stroke-width="0.9"><circle cx="115.06" cy="297.48" r="1.25"/><circle cx="116.84" cy="297.08" r="1.25"/><circle cx="118.62" cy="296.68" r="1.25"/><circle cx="120.40" cy="296.87" r="1.25"/><circle cx="122.17" cy="297.22" r="1.25"/><circle cx="123.95" cy="297.57" r="1.25"/><circle cx="125.73" cy="292.07" r="1.25"/><circle cx="127.51" cy="290.00" r="1.25"/><circle cx="129.29" cy="289.04" r="1.25"/><circle cx="131.07" cy="286.12" r="1.25"/><circle cx="132.84" cy="283.61" r="1.25"/><circle cx="134.62" cy="281.74" r="1.25"/><circle cx="136.40" cy="278.64" r="1.25"/><circle cx="138.18" cy="279.82" r="1.25"/><circle cx="139.96" cy="301.88" r="1.25"/><circle cx="141.73" cy="307.28" r="1.25"/><circle cx="143.51" cy="317.31" r="1.25"/><circle cx="145.29" cy="324.27" r="1.25"/><circle cx="147.07" cy="326.51" r="1.25"/><circle cx="148.85" cy="325.64" r="1.25"/><circle cx="150.62" cy="328.76" r="1.25"/><circle cx="152.40" cy="344.13" r="1.25"/><circle cx="154.18" cy="359.57" r="1.25"/><circle cx="155.96" cy="367.73" r="1.25"/><circle cx="157.74" cy="345.89" r="1.25"/><circle cx="159.52" cy="343.23" r="1.25"/><circle cx="161.29" cy="364.82" r="1.25"/><circle cx="163.07" cy="355.65" r="1.25"/><circle cx="164.85" cy="307.66" r="1.25"/><circle cx="166.63" cy="290.19" r="1.25"/><circle cx="168.41" cy="276.05" r="1.25"/><circle cx="170.18" cy="274.00" r="1.25"/><circle cx="171.96" cy="277.44" r="1.25"/><circle cx="173.74" cy="278.16" r="1.25"/><circle cx="175.52" cy="281.61" r="1.25"/><circle cx="177.30" cy="289.85" r="1.25"/><circle cx="179.07" cy="289.41" r="1.25"/><circle cx="180.85" cy="282.97" r="1.25"/><circle cx="182.63" cy="279.92" r="1.25"/><circle cx="184.41" cy="280.23" r="1.25"/><circle cx="186.19" cy="285.36" r="1.25"/><circle cx="187.97" cy="284.52" r="1.25"/><circle cx="189.74" cy="281.24" r="1.25"/><circle cx="191.52" cy="277.66" r="1.25"/><circle cx="193.30" cy="275.59" r="1.25"/><circle cx="195.08" cy="274.44" r="1.25"/><circle cx="196.86" cy="272.74" r="1.25"/><circle cx="198.63" cy="271.01" r="1.25"/><circle cx="200.41" cy="269.47" r="1.25"/><circle cx="202.19" cy="267.66" r="1.25"/><circle cx="203.97" cy="265.59" r="1.25"/><circle cx="205.75" cy="262.63" r="1.25"/><circle cx="207.52" cy="259.57" r="1.25"/><circle cx="209.30" cy="257.73" r="1.25"/><circle cx="211.08" cy="256.37" r="1.25"/><circle cx="212.86" cy="255.78" r="1.25"/><circle cx="214.64" cy="254.51" r="1.25"/><circle cx="216.42" cy="252.03" r="1.25"/><circle cx="218.19" cy="246.62" r="1.25"/><circle cx="219.97" cy="241.28" r="1.25"/><circle cx="221.75" cy="237.45" r="1.25"/><circle cx="223.53" cy="230.89" r="1.25"/><circle cx="225.31" cy="224.73" r="1.25"/><circle cx="227.08" cy="221.53" r="1.25"/><circle cx="228.86" cy="215.51" r="1.25"/><circle cx="230.64" cy="207.96" r="1.25"/><circle cx="232.42" cy="195.46" r="1.25"/><circle cx="234.20" cy="214.37" r="1.25"/><circle cx="235.97" cy="219.99" r="1.25"/><circle cx="237.75" cy="214.40" r="1.25"/><circle cx="239.53" cy="232.31" r="1.25"/><circle cx="241.31" cy="223.00" r="1.25"/><circle cx="243.09" cy="218.64" r="1.25"/><circle cx="244.87" cy="224.19" r="1.25"/><circle cx="246.64" cy="223.55" r="1.25"/><circle cx="248.42" cy="212.54" r="1.25"/><circle cx="250.20" cy="201.28" r="1.25"/><circle cx="251.98" cy="195.02" r="1.25"/><circle cx="253.76" cy="193.24" r="1.25"/><circle cx="255.53" cy="182.65" r="1.25"/><circle cx="257.31" cy="179.27" r="1.25"/><circle cx="259.09" cy="191.02" r="1.25"/><circle cx="260.87" cy="192.18" r="1.25"/><circle cx="262.65" cy="192.64" r="1.25"/><circle cx="264.42" cy="189.77" r="1.25"/><circle cx="266.20" cy="193.93" r="1.25"/><circle cx="267.98" cy="195.01" r="1.25"/><circle cx="269.76" cy="190.77" r="1.25"/><circle cx="271.54" cy="188.98" r="1.25"/><circle cx="273.32" cy="187.91" r="1.25"/><circle cx="275.09" cy="183.21" r="1.25"/><circle cx="276.87" cy="181.52" r="1.25"/><circle cx="278.65" cy="182.85" r="1.25"/><circle cx="280.43" cy="187.37" r="1.25"/><circle cx="282.21" cy="190.41" r="1.25"/><circle cx="283.98" cy="192.28" r="1.25"/><circle cx="285.76" cy="192.40" r="1.25"/><circle cx="287.54" cy="191.19" r="1.25"/><circle cx="289.32" cy="184.30" r="1.25"/><circle cx="291.10" cy="171.39" r="1.25"/><circle cx="292.87" cy="165.66" r="1.25"/><circle cx="294.65" cy="161.22" r="1.25"/><circle cx="296.43" cy="156.43" r="1.25"/><circle cx="298.21" cy="148.08" r="1.25"/><circle cx="299.99" cy="144.53" r="1.25"/><circle cx="301.77" cy="137.15" r="1.25"/><circle cx="303.54" cy="129.06" r="1.25"/><circle cx="305.32" cy="119.66" r="1.25"/><circle cx="307.10" cy="109.55" r="1.25"/><circle cx="308.88" cy="106.58" r="1.25"/><circle cx="310.66" cy="101.68" r="1.25"/><circle cx="312.43" cy="103.96" r="1.25"/><circle cx="314.21" cy="119.54" r="1.25"/><circle cx="315.99" cy="127.15" r="1.25"/><circle cx="317.77" cy="122.95" r="1.25"/><circle cx="319.55" cy="115.87" r="1.25"/><circle cx="321.32" cy="116.86" r="1.25"/><circle cx="323.10" cy="119.08" r="1.25"/><circle cx="324.88" cy="109.63" r="1.25"/><circle cx="326.66" cy="108.95" r="1.25"/><circle cx="328.44" cy="109.55" r="1.25"/><circle cx="330.22" cy="110.38" r="1.25"/><circle cx="331.99" cy="110.46" r="1.25"/><circle cx="333.77" cy="108.24" r="1.25"/><circle cx="335.55" cy="102.74" r="1.25"/><circle cx="337.33" cy="100.20" r="1.25"/><circle cx="339.11" cy="95.32" r="1.25"/><circle cx="340.88" cy="93.51" r="1.25"/><circle cx="342.66" cy="102.84" r="1.25"/><circle cx="344.44" cy="114.34" r="1.25"/><circle cx="346.22" cy="119.61" r="1.25"/><circle cx="348.00" cy="121.94" r="1.25"/><circle cx="349.77" cy="124.48" r="1.25"/><circle cx="351.55" cy="129.07" r="1.25"/><circle cx="353.33" cy="138.92" r="1.25"/><circle cx="355.11" cy="145.20" r="1.25"/><circle cx="356.89" cy="146.92" r="1.25"/><circle cx="358.67" cy="142.19" r="1.25"/><circle cx="360.44" cy="148.50" r="1.25"/><circle cx="362.22" cy="144.07" r="1.25"/><circle cx="364.00" cy="142.21" r="1.25"/><circle cx="365.78" cy="144.28" r="1.25"/><circle cx="367.56" cy="149.07" r="1.25"/><circle cx="369.33" cy="152.67" r="1.25"/><circle cx="371.11" cy="160.29" r="1.25"/><circle cx="372.89" cy="159.13" r="1.25"/><circle cx="374.67" cy="158.11" r="1.25"/><circle cx="376.45" cy="174.54" r="1.25"/><circle cx="378.22" cy="180.98" r="1.25"/><circle cx="380.00" cy="179.20" r="1.25"/><circle cx="381.78" cy="182.55" r="1.25"/><circle cx="383.56" cy="188.22" r="1.25"/><circle cx="385.34" cy="193.06" r="1.25"/><circle cx="387.12" cy="191.28" r="1.25"/><circle cx="388.89" cy="189.51" r="1.25"/><circle cx="390.67" cy="184.78" r="1.25"/><circle cx="392.45" cy="173.24" r="1.25"/><circle cx="394.23" cy="167.01" r="1.25"/><circle cx="396.01" cy="155.26" r="1.25"/><circle cx="397.78" cy="147.82" r="1.25"/><circle cx="399.56" cy="146.04" r="1.25"/><circle cx="401.34" cy="144.26" r="1.25"/><circle cx="403.12" cy="138.66" r="1.25"/><circle cx="404.90" cy="143.19" r="1.25"/><circle cx="406.67" cy="141.03" r="1.25"/><circle cx="408.45" cy="143.61" r="1.25"/><circle cx="410.23" cy="140.56" r="1.25"/><circle cx="412.01" cy="141.31" r="1.25"/><circle cx="413.79" cy="144.93" r="1.25"/><circle cx="415.57" cy="150.99" r="1.25"/><circle cx="417.34" cy="147.87" r="1.25"/><circle cx="419.12" cy="143.09" r="1.25"/><circle cx="420.90" cy="150.20" r="1.25"/><circle cx="422.68" cy="155.24" r="1.25"/><circle cx="424.46" cy="156.13" r="1.25"/><circle cx="426.23" cy="158.24" r="1.25"/><circle cx="428.01" cy="166.71" r="1.25"/><circle cx="429.79" cy="168.49" r="1.25"/><circle cx="431.57" cy="170.27" r="1.25"/><circle cx="433.35" cy="173.85" r="1.25"/><circle cx="435.12" cy="179.33" r="1.25"/><circle cx="436.90" cy="181.00" r="1.25"/><circle cx="438.68" cy="181.89" r="1.25"/><circle cx="440.46" cy="183.14" r="1.25"/><circle cx="442.24" cy="181.39" r="1.25"/><circle cx="444.02" cy="180.67" r="1.25"/><circle cx="445.79" cy="181.03" r="1.25"/><circle cx="447.57" cy="182.01" r="1.25"/><circle cx="449.35" cy="182.72" r="1.25"/><circle cx="451.13" cy="183.43" r="1.25"/><circle cx="452.91" cy="183.42" r="1.25"/><circle cx="454.68" cy="181.99" r="1.25"/><circle cx="456.46" cy="181.58" r="1.25"/><circle cx="458.24" cy="181.74" r="1.25"/><circle cx="460.02" cy="182.33" r="1.25"/><circle cx="461.80" cy="181.26" r="1.25"/><circle cx="463.57" cy="181.84" r="1.25"/><circle cx="465.35" cy="182.90" r="1.25"/><circle cx="467.13" cy="182.90" r="1.25"/><circle cx="468.91" cy="181.74" r="1.25"/><circle cx="470.69" cy="180.04" r="1.25"/><circle cx="472.47" cy="177.68" r="1.25"/><circle cx="474.24" cy="174.95" r="1.25"/><circle cx="476.02" cy="172.32" r="1.25"/><circle cx="477.80" cy="165.89" r="1.25"/><circle cx="479.58" cy="160.37" r="1.25"/><circle cx="481.36" cy="154.50" r="1.25"/><circle cx="483.13" cy="148.97" r="1.25"/><circle cx="484.91" cy="148.98" r="1.25"/><circle cx="486.69" cy="145.23" r="1.25"/><circle cx="488.47" cy="147.86" r="1.25"/><circle cx="490.25" cy="150.74" r="1.25"/><circle cx="492.02" cy="152.07" r="1.25"/><circle cx="493.80" cy="151.40" r="1.25"/><circle cx="495.58" cy="146.96" r="1.25"/><circle cx="497.36" cy="143.96" r="1.25"/><circle cx="499.14" cy="151.51" r="1.25"/><circle cx="500.92" cy="152.79" r="1.25"/><circle cx="502.69" cy="154.12" r="1.25"/><circle cx="504.47" cy="162.57" r="1.25"/><circle cx="506.25" cy="172.49" r="1.25"/><circle cx="508.03" cy="172.85" r="1.25"/><circle cx="509.81" cy="172.90" r="1.25"/><circle cx="511.58" cy="175.90" r="1.25"/><circle cx="513.36" cy="184.89" r="1.25"/><circle cx="515.14" cy="194.03" r="1.25"/><circle cx="516.92" cy="190.92" r="1.25"/><circle cx="518.70" cy="200.18" r="1.25"/><circle cx="520.47" cy="202.86" r="1.25"/><circle cx="522.25" cy="208.24" r="1.25"/><circle cx="524.03" cy="209.57" r="1.25"/><circle cx="525.81" cy="207.69" r="1.25"/><circle cx="527.59" cy="204.43" r="1.25"/><circle cx="529.37" cy="201.40" r="1.25"/><circle cx="531.14" cy="203.51" r="1.25"/><circle cx="532.92" cy="206.13" r="1.25"/><circle cx="534.70" cy="210.28" r="1.25"/><circle cx="536.48" cy="216.97" r="1.25"/><circle cx="538.26" cy="226.83" r="1.25"/><circle cx="540.03" cy="231.68" r="1.25"/><circle cx="541.81" cy="234.92" r="1.25"/><circle cx="543.59" cy="237.57" r="1.25"/><circle cx="545.37" cy="242.18" r="1.25"/><circle cx="547.15" cy="245.37" r="1.25"/><circle cx="548.92" cy="248.04" r="1.25"/><circle cx="550.70" cy="251.51" r="1.25"/><circle cx="552.48" cy="252.57" r="1.25"/><circle cx="554.26" cy="253.36" r="1.25"/><circle cx="556.04" cy="254.80" r="1.25"/><circle cx="557.82" cy="254.77" r="1.25"/><circle cx="559.59" cy="254.33" r="1.25"/><circle cx="561.37" cy="253.46" r="1.25"/><circle cx="563.15" cy="252.21" r="1.25"/><circle cx="564.93" cy="251.42" r="1.25"/><circle cx="566.71" cy="248.02" r="1.25"/><circle cx="568.48" cy="237.58" r="1.25"/><circle cx="570.26" cy="241.22" r="1.25"/><circle cx="572.04" cy="233.25" r="1.25"/><circle cx="573.82" cy="226.68" r="1.25"/><circle cx="575.60" cy="220.52" r="1.25"/><circle cx="577.38" cy="214.92" r="1.25"/><circle cx="579.15" cy="210.12" r="1.25"/><circle cx="580.93" cy="210.87" r="1.25"/><circle cx="582.71" cy="209.09" r="1.25"/><circle cx="584.49" cy="205.83" r="1.25"/><circle cx="586.27" cy="206.43" r="1.25"/><circle cx="588.04" cy="203.44" r="1.25"/><circle cx="589.82" cy="203.91" r="1.25"/><circle cx="591.60" cy="206.43" r="1.25"/><circle cx="593.38" cy="208.36" r="1.25"/><circle cx="595.16" cy="213.55" r="1.25"/><circle cx="596.93" cy="217.26" r="1.25"/><circle cx="598.71" cy="217.71" r="1.25"/><circle cx="600.49" cy="218.98" r="1.25"/><circle cx="602.27" cy="221.26" r="1.25"/><circle cx="604.05" cy="223.92" r="1.25"/><circle cx="605.82" cy="225.78" r="1.25"/><circle cx="607.60" cy="224.45" r="1.25"/><circle cx="609.38" cy="223.51" r="1.25"/><circle cx="611.16" cy="223.64" r="1.25"/><circle cx="612.94" cy="223.80" r="1.25"/><circle cx="614.72" cy="223.80" r="1.25"/><circle cx="616.49" cy="214.68" r="1.25"/><circle cx="618.27" cy="214.23" r="1.25"/><circle cx="620.05" cy="211.15" r="1.25"/></g>
<rect x="113.5" y="85.0" width="510.0" height="396.5" fill="none" stroke="#000" stroke-width="1.35"/>
<text transform="translate(194.50,46.45) scale(1.0300,1)" font-size="35" stroke="#000" stroke-width="0.3">Dew Point / 2007-07-14</text>
<text transform="translate(100.30,71.20) scale(1.0040,1)" font-size="17.5" stroke="#000" stroke-width="0.35">[<tspan font-size="11.5" dy="-5.2">°</tspan><tspan dx="1.6" dy="5.2">C]</tspan></text>
<text x="102.85" y="90.70" font-size="20" text-anchor="end" stroke="#000" stroke-width="0.15">24</text>
<text x="104.90" y="191.30" font-size="20" text-anchor="end" stroke="#000" stroke-width="0.15">21</text>
<text x="104.90" y="290.10" font-size="20" text-anchor="end" stroke="#000" stroke-width="0.15">18</text>
<text x="104.85" y="389.30" font-size="20" text-anchor="end" stroke="#000" stroke-width="0.15">15</text>
<text x="105.65" y="488.20" font-size="20" text-anchor="end" stroke="#000" stroke-width="0.15">12</text>
<text transform="translate(538.85,506.90) scale(1.1200,1)" font-size="18" text-anchor="middle" stroke="#000" stroke-width="0.15">00:00</text>
<text transform="translate(453.50,506.90) scale(1.1200,1)" font-size="18" text-anchor="middle" stroke="#000" stroke-width="0.15">00:00</text>
<text transform="translate(368.15,506.90) scale(1.1200,1)" font-size="18" text-anchor="middle" stroke="#000" stroke-width="0.15">00:00</text>
<text transform="translate(282.80,506.90) scale(1.1200,1)" font-size="18" text-anchor="middle" stroke="#000" stroke-width="0.15">00:00</text>
<text transform="translate(197.45,506.90) scale(1.1200,1)" font-size="18" text-anchor="middle" stroke="#000" stroke-width="0.15">00:00</text>
<text transform="translate(155.78,526.70) scale(1.1100,1)" font-size="18" text-anchor="middle" stroke="#000" stroke-width="0.15">Jul-09</text>
<text transform="translate(240.43,526.70) scale(1.1100,1)" font-size="18" text-anchor="middle" stroke="#000" stroke-width="0.15">Jul-10</text>
<text transform="translate(325.28,526.70) scale(1.1100,1)" font-size="18" text-anchor="middle" stroke="#000" stroke-width="0.15">Jul-11</text>
<text transform="translate(410.63,526.70) scale(1.1100,1)" font-size="18" text-anchor="middle" stroke="#000" stroke-width="0.15">Jul-12</text>
<text transform="translate(495.98,526.70) scale(1.1100,1)" font-size="18" text-anchor="middle" stroke="#000" stroke-width="0.15">Jul-13</text>
<text transform="translate(581.32,526.70) scale(1.1100,1)" font-size="18" text-anchor="middle" stroke="#000" stroke-width="0.15">Jul-14</text>
<text transform="translate(369.90,550.80) scale(1.0400,1)" font-size="23" text-anchor="middle" stroke="#000" stroke-width="0.15">(LST)</text>
<text x="659.50" y="416.50" font-size="18" stroke="#000" stroke-width="0.15">at 29.5 m</text>
<text x="659.50" y="445.30" font-size="18" stroke="#000" stroke-width="0.15">at 12.3 m</text>
<text x="659.50" y="473.60" font-size="18" stroke="#000" stroke-width="0.15">at 1.6 m</text>
<rect x="637.6" y="396.9" width="184.3" height="84.3" fill="none" stroke="#000" stroke-width="1.3"/>
<g stroke-width="0.55">
<path d="M643.3,410.4H654.5" stroke="#ff0000"/><circle cx="649.1" cy="410.7" r="1.6" stroke-width="1" fill="none" stroke="#ff0000"/>
<path d="M643.3,439.2H654.5" stroke="#00ff00"/><circle cx="649.1" cy="439.5" r="1.6" stroke-width="1" fill="none" stroke="#00ff00"/>
<path d="M643.3,467.5H654.5" stroke="#0000ff"/><circle cx="649.1" cy="467.8" r="1.6" stroke-width="1" fill="none" stroke="#0000ff"/>
</g>
<g font-size="13.4">
<text x="661.7" y="532.8" font-size="12" textLength="117.9" lengthAdjust="spacing">©TERC, Univ. Tsukuba</text>
<text x="655.7" y="549.8" textLength="167" lengthAdjust="spacing">Observed at TERC Tower site</text>
<text x="561.6" y="566.7" textLength="260.6" lengthAdjust="spacing">Created Automatically at 2007-07-14/23:32:08</text>
<text x="432.1" y="583.2" textLength="389.1" lengthAdjust="spacing">Data source : /home/hojyo/new/TERC-data/sorted_data/MET.30m.dat</text>
</g>
<g transform="translate(784.9,503.9)">
<path d="M1.2,0H32.8Q34,0 34,1.2V34H0V1.2Q0,0 1.2,0Z" fill="#0a5ff2"/>
<path d="M10.9,-0.1L11.3,1.2C12,2 12,4 13.2,5.2L14.2,6.1H19.9L21,5.4C22.3,4.3 23,3 23.1,1L23.3,-0.1Z" fill="#fff"/>
<path d="M17.4,7.9C17.1,9.6 14.1,11.6 14.1,14.6C14.1,17 15.5,18 17.1,18C18.7,18 20.1,17 20.1,14.6C20.1,11.6 17.7,9.6 17.4,7.9Z" fill="#fff"/>
<g fill="none" stroke="#fff" stroke-width="1">
<path d="M0.6,8.2V10.8C2.5,15.5 9,21.2 17.1,21.2C25.2,21.2 31.7,15.5 33.6,10.8V8.2"/>
<path d="M0.3,15.4C4,18.5 10,22.8 17.1,22.8C24.2,22.8 30.2,18.5 33.9,15.9"/>
<path d="M0.3,20.2C3.5,22.5 9,24.6 17.1,24.6C25.2,24.6 30.7,22.5 33.9,20.6"/>
</g>
<g style="fill:#fff;font-family:'Liberation Sans',sans-serif;font-weight:bold" font-size="8.3">
<text x="0.9" y="32.9" style="fill:#fff;font-family:'Liberation Sans',sans-serif;font-weight:bold">T</text>
<text x="9.5" y="32.9" style="fill:#fff;font-family:'Liberation Sans',sans-serif;font-weight:bold">E</text>
<text x="18.5" y="32.9" style="fill:#fff;font-family:'Liberation Sans',sans-serif;font-weight:bold">R</text>
<text x="27.5" y="32.9" style="fill:#fff;font-family:'Liberation Sans',sans-serif;font-weight:bold">C</text>
</g>
</g>
</svg>
</body></html>
